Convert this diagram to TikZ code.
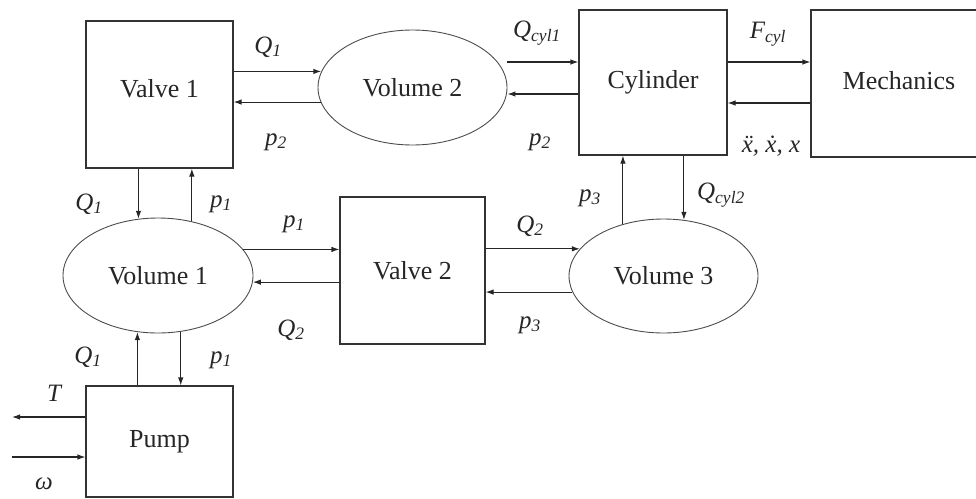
\documentclass[tikz,border=0pt]{standalone}
\usepackage{fontspec}
\setmainfont{Liberation Serif}
\usetikzlibrary{arrows.meta,shapes.geometric}
\begin{document}
\begin{tikzpicture}[x=1pt,y=-1pt,
  blk/.style={draw=black!80,line width=1.1pt,inner sep=0pt,text=black!85,
    font=\fontsize{26}{30}\selectfont},
  vol/.style={ellipse,draw=black!70,line width=0.9pt,inner sep=0pt,text=black!85,
    font=\fontsize{26}{30}\selectfont},
  arr/.style={-{Latex[length=8pt,width=5.5pt]},line width=1.1pt,draw=black!85},
  lab/.style={inner sep=0pt,text=black!85,font=\fontsize{25}{30}\selectfont\itshape}]
\useasboundingbox (0,0) rectangle (976,498);
\clip (0,0) rectangle (976,498);
% blocks
\node[blk,minimum width=147pt,minimum height=147pt] (v1) at (159.5,94.5) {\raisebox{12pt}{Valve 1}};
\node[blk,minimum width=145pt,minimum height=147pt] (v2) at (412.5,270.5) {Valve 2};
\node[blk,minimum width=147pt,minimum height=111pt] (pump) at (159.5,441.5) {Pump};
\node[blk,minimum width=148pt,minimum height=145pt] (cyl) at (653,82.5) {\raisebox{5pt}{Cylinder}};
\node[blk,minimum width=176pt,minimum height=147pt] (mech) at (899,83.5) {\raisebox{7pt}{Mechanics}};
% volumes
\node[vol,minimum width=189pt,minimum height=115pt] (vol2) at (412.5,87.5) {Volume 2};
\node[vol,minimum width=190pt,minimum height=115pt] (vol1) at (158,275.5) {Volume 1};
\node[vol,minimum width=189pt,minimum height=114pt] (vol3) at (663.5,276) {Volume 3};
% free ends
\coordinate (tend) at (12,417);
\coordinate (wst) at (12,457);
% connectors
\draw[arr] (v1.east |- vol2.170.5) -- (vol2.170.5);
\draw[arr] (vol2.189.5) -- (v1.east |- vol2.189.5);
\draw[arr] (v1.south -| vol1.109.7) -- (vol1.109.7);
\draw[arr] (vol1.58.3) -- (v1.south -| vol1.58.3);
\draw[arr] (vol1.17.1) -- (v2.west |- vol1.17.1);
\draw[arr] (v2.west |- vol1.-4.2) -- (vol1.-4.2);
\draw[arr] (pump.north -| vol1.250.3) -- (vol1.250.3);
\draw[arr] (vol1.292.6) -- (pump.north -| vol1.292.6);
\draw[arr] (pump.west |- tend) -- (tend);
\draw[arr] (wst) -- (pump.west |- wst);
\draw[arr] (vol2.east |- 0,62) -- (cyl.west |- 0,62);
\draw[arr] (cyl.west |- 0,94) -- (vol2.east |- 0,94);
\draw[arr] (cyl.east |- 0,62) -- (mech.west |- 0,62);
\draw[arr] (mech.west |- 0,103) -- (cyl.east |- 0,103);
\draw[arr] (vol3.128.2) -- (cyl.south -| vol3.128.2);
\draw[arr] (cyl.south -| vol3.70.7) -- (vol3.70.7);
\draw[arr] (v2.east |- vol3.162) -- (vol3.162);
\draw[arr] (vol3.190.7) -- (v2.east |- vol3.190.7);
% labels
\node[lab] (lq1a) at (268,47) {Q\textsubscript{1}};
\node[lab] (lp2a) at (276,142) {p\textsubscript{2}};
\node[lab] (lq1b) at (89,204) {Q\textsubscript{1}};
\node[lab] (lp1a) at (221,204) {p\textsubscript{1}};
\node[lab] (lp1b) at (294,224) {p\textsubscript{1}};
\node[lab] (lq2a) at (291,330) {Q\textsubscript{2}};
\node[lab] (lq1c) at (88,357) {Q\textsubscript{1}};
\node[lab] (lp1c) at (221,360) {p\textsubscript{1}};
\node[lab] (lt) at (54,393) {T};
\node[lab] (lw) at (44,484) {ω};
\node[lab] (lqc1) at (537,33) {Q\textsubscript{cyl1}};
\node[lab] (lp2b) at (540,142) {p\textsubscript{2}};
\node[lab] (lf) at (768,34) {F\textsubscript{cyl}};
\node[lab] (lx) at (771,146) {\"x, \.x, x};
\node[lab] (lp3a) at (590,198) {p\textsubscript{3}};
\node[lab] (lqc2) at (721,195) {Q\textsubscript{cyl2}};
\node[lab] (lq2b) at (530,226) {Q\textsubscript{2}};
\node[lab] (lp3b) at (530,325) {p\textsubscript{3}};
\end{tikzpicture}
\end{document}
